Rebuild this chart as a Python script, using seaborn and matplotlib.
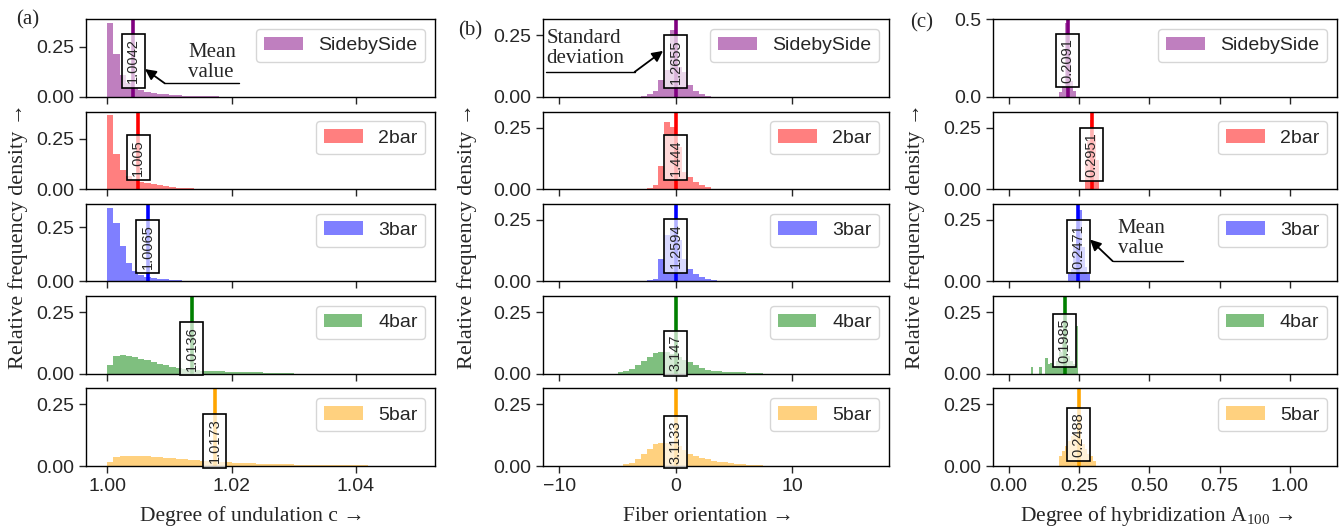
import numpy as np
import pandas as pd
import matplotlib
matplotlib.use("Agg")
import matplotlib.pyplot as plt
import seaborn as sns

groups = ["SidebySide", "2bar", "3bar", "4bar", "5bar"]
colors = ["purple", "red", "blue", "green", "orange"]

# (a) degree of undulation, bin width 0.001
und_width = 0.001
und_start = [1.000, 1.000, 1.000, 1.000, 1.000]
und_side = [0.370, 0.213, 0.110, 0.068, 0.045, 0.033, 0.026, 0.020, 0.016, 0.013,
            0.010, 0.008, 0.006, 0.005, 0.004, 0.003, 0.002, 0.002]
und_2bar = [0.367, 0.177, 0.097, 0.063, 0.046, 0.036, 0.030, 0.026, 0.020, 0.015,
            0.011, 0.008, 0.005, 0.004, 0.003, 0.002]
und_3bar = [0.340, 0.268, 0.165, 0.085, 0.048, 0.030, 0.022, 0.016, 0.012, 0.009,
            0.007, 0.005, 0.004, 0.003, 0.002]
und_4bar = [0.035, 0.072, 0.076, 0.071, 0.066, 0.060, 0.054, 0.048, 0.041, 0.035,
            0.029, 0.024, 0.020, 0.017, 0.015, 0.013, 0.012, 0.010, 0.009, 0.008,
            0.007, 0.006, 0.006, 0.005, 0.005, 0.004, 0.004, 0.003, 0.003, 0.002]
und_5bar = [0.016, 0.036, 0.040, 0.041, 0.041, 0.040, 0.039, 0.037, 0.035, 0.033,
            0.031, 0.029, 0.027, 0.025, 0.023, 0.021, 0.019, 0.018, 0.016, 0.015,
            0.014, 0.013, 0.012, 0.011, 0.010, 0.009, 0.009, 0.008, 0.007, 0.007,
            0.006, 0.006, 0.005, 0.005, 0.005, 0.004, 0.004, 0.004, 0.003, 0.003,
            0.003, 0.003, 0.002, 0.002, 0.002, 0.002, 0.002]
und_mean = [1.0042, 1.005, 1.0065, 1.0136, 1.0173]

# (b) fiber orientation, bin width 0.5
ori_width = 0.5
ori_start = [-3.0, -2.5, -2.5, -5.0, -4.5]
ori_side = [0.004, 0.012, 0.025, 0.070, 0.110, 0.270, 0.120, 0.100, 0.050, 0.025,
            0.012, 0.005]
ori_2bar = [0.004, 0.016, 0.094, 0.274, 0.253, 0.170, 0.070, 0.050, 0.030, 0.016,
            0.007]
ori_3bar = [0.004, 0.011, 0.092, 0.190, 0.210, 0.170, 0.090, 0.051, 0.031, 0.018,
            0.011, 0.005]
ori_4bar = [0.005, 0.010, 0.019, 0.034, 0.050, 0.068, 0.083, 0.089, 0.090, 0.080,
            0.068, 0.056, 0.047, 0.034, 0.023, 0.016, 0.012, 0.010, 0.008, 0.007,
            0.005, 0.005, 0.004, 0.004, 0.003]
ori_5bar = [0.007, 0.012, 0.030, 0.047, 0.070, 0.088, 0.093, 0.095, 0.090, 0.080,
            0.065, 0.050, 0.040, 0.033, 0.027, 0.022, 0.018, 0.015, 0.012, 0.010,
            0.008, 0.006, 0.004, 0.003]
ori_mean = [0.0, 0.0, 0.0, 0.0, 0.0]
ori_std = [1.2655, 1.444, 1.2594, 3.147, 3.1133]

# (c) degree of hybridization, bin width 0.01
hyb_width = 0.01
hyb_start = [0.18, 0.27, 0.21, 0.078, 0.18]
hyb_side = [0.030, 0.070, 0.476, 0.260, 0.100, 0.040]
hyb_2bar = [0.120, 0.200, 0.280, 0.220, 0.120]
hyb_3bar = [0.030, 0.050, 0.140, 0.220, 0.289, 0.140, 0.060, 0.030]
hyb_4bar = [0.028, 0.0, 0.0, 0.028, 0.0, 0.063, 0.040, 0.045, 0.030, 0.050,
            0.090, 0.120, 0.110, 0.070, 0.050, 0.040, 0.194]
hyb_5bar = [0.040, 0.060, 0.080, 0.100, 0.120, 0.130, 0.130, 0.110, 0.090, 0.070,
            0.050, 0.040, 0.020]
hyb_mean = [0.2091, 0.2951, 0.2471, 0.1985, 0.2488]

columns = [
    dict(hists=[und_side, und_2bar, und_3bar, und_4bar, und_5bar], start=und_start,
         width=und_width, lines=und_mean, labels=und_mean,
         xlim=(0.9966, 1.0527), xticks=[1.00, 1.02, 1.04],
         xlabel="Degree of undulation c \u2192", box=(86, 435)),
    dict(hists=[ori_side, ori_2bar, ori_3bar, ori_4bar, ori_5bar], start=ori_start,
         width=ori_width, lines=ori_mean, labels=ori_std,
         xlim=(-11.4, 18.3), xticks=[-10, 0, 10],
         xlabel="Fiber orientation \u2192", box=(543, 889)),
    dict(hists=[hyb_side, hyb_2bar, hyb_3bar, hyb_4bar, hyb_5bar], start=hyb_start,
         width=hyb_width, lines=hyb_mean, labels=hyb_mean,
         xlim=(-0.056, 1.168), xticks=[0.0, 0.25, 0.5, 0.75, 1.0],
         xlabel="Degree of hybridization A$_{100}$ \u2192", box=(993, 1337)),
]

# height of the value boxes above the x axis (axes fraction)
label_frac = [[0.177, 0.17, 0.16, 0.035, 0.035],
              [0.17, 0.17, 0.17, 0.03, 0.03],
              [0.18, 0.16, 0.165, 0.14, 0.115]]

sns.set_style("ticks")
plt.rcParams["font.family"] = ["Liberation Sans", "DejaVu Sans"]
plt.rcParams["mathtext.default"] = "regular"
serif = ["Liberation Serif", "DejaVu Serif"]

W, H = 1341, 531
fig = plt.figure(figsize=(W / 100, H / 100), dpi=100)

axes = []
for c, col in enumerate(columns):
    x0, x1 = col["box"]
    gs = fig.add_gridspec(5, 1, left=x0 / W, right=x1 / W, top=1 - 19.3 / H,
                          bottom=1 - 466 / H, hspace=0.19)
    col_axes = []
    for r in range(5):
        ax = fig.add_subplot(gs[r], sharex=col_axes[0] if col_axes else None)
        h = np.array(col["hists"][r])
        edges = col["start"][r] + col["width"] * np.arange(len(h) + 1)
        df = pd.DataFrame({"x": (edges[:-1] + edges[1:]) / 2, "w": h})
        # bins as a plain list: seaborn 0.13 trips over an array here
        sns.histplot(data=df, x="x", weights="w", bins=edges.tolist(), color=colors[r],
                     alpha=0.5, linewidth=0, ax=ax, label=groups[r])
        ax.axvline(col["lines"][r], color=colors[r], lw=2.6)
        ax.text(col["lines"][r], label_frac[c][r], str(col["labels"][r]),
                transform=ax.get_xaxis_transform(), rotation=90, ha="center",
                va="bottom", fontsize=10.5,
                bbox=dict(boxstyle="square,pad=0.3", fc=(1, 1, 1, 0.7), ec="black", lw=1.2))
        top = max(h.max(), 0.3) * 1.05
        ax.set_ylim(0, top)
        ax.set_yticks([0, 0.5] if top > 0.45 else [0, 0.25])
        ax.set_xlim(*col["xlim"])
        ax.set_xticks(col["xticks"])
        ax.set(xlabel="", ylabel="")
        ax.tick_params(labelsize=14, labelbottom=(r == 4), length=5, width=1)
        for s in ax.spines.values():
            s.set_visible(True)
            s.set_color("black")
            s.set_linewidth(1)
        ax.legend(loc="upper right", fontsize=14)
        col_axes.append(ax)
    axes.append(col_axes)
    xc = (x0 + x1) / 2 / W
    fig.text(xc - 0.006, 0.028, col["xlabel"], ha="center", va="center",
             fontsize=15.5, family=serif)

for x in [18, 467, 915]:
    fig.text(x / W, 0.555, "Relative frequency density \u2192", rotation=90,
             ha="center", va="center", fontsize=16, family=serif)
fig.text(28 / W, 1 - 20 / H, "(a)", ha="center", va="center", fontsize=15, family=serif)
fig.text(470 / W, 1 - 31 / H, "(b)", ha="center", va="center", fontsize=15, family=serif)
fig.text(922 / W, 1 - 23 / H, "(c)", ha="center", va="center", fontsize=15, family=serif)


def note(ax, text, text_xy, tail, tip, line_end):
    ax.text(*text_xy, text, transform=ax.transAxes, ha="left", va="center",
            fontsize=15, family=serif, linespacing=1.1)
    ax.plot([tail[0], line_end], [tail[1], tail[1]], transform=ax.transAxes,
            color="black", lw=1, clip_on=False)
    ax.annotate("", xy=tip, xytext=tail, xycoords="axes fraction",
                textcoords="axes fraction",
                arrowprops=dict(arrowstyle="-|>", color="black", lw=1.3,
                                mutation_scale=16, shrinkA=0, shrinkB=0))


note(axes[0][0], "Mean\nvalue", (0.292, 0.44), (0.226, 0.173), (0.169, 0.358), 0.438)
note(axes[1][0], "Standard\ndeviation", (0.01, 0.62), (0.265, 0.322), (0.347, 0.593), 0.01)
note(axes[2][2], "Mean\nvalue", (0.363, 0.557), (0.348, 0.261), (0.282, 0.54), 0.553)

fig.savefig("out.png", dpi=100)
